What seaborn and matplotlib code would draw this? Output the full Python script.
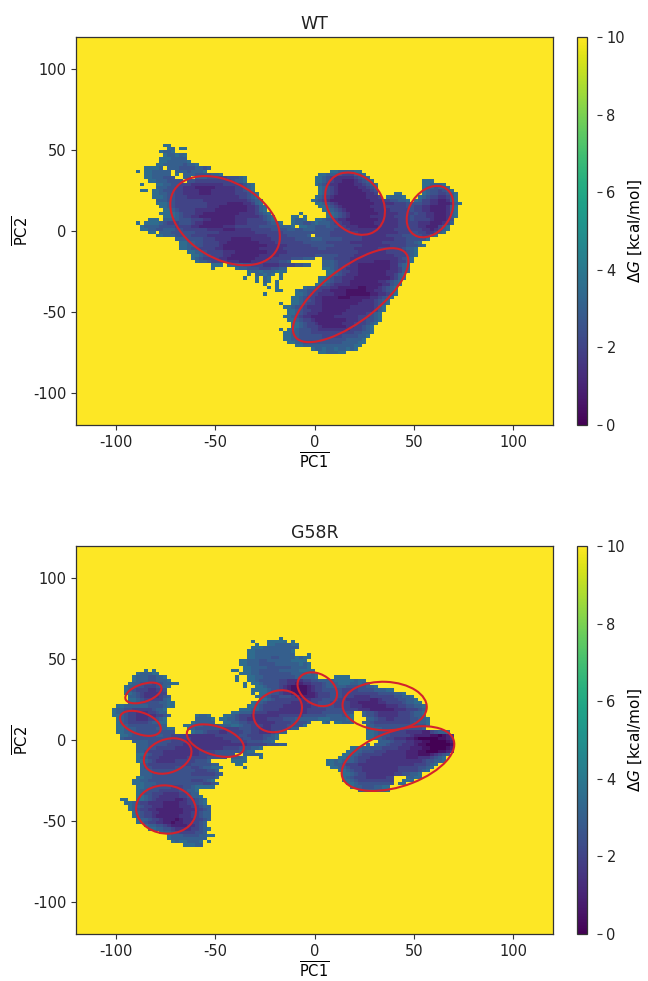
import numpy as np
import pandas as pd
import matplotlib
matplotlib.use("Agg")
import matplotlib.pyplot as plt
from matplotlib.patches import Ellipse
import seaborn as sns

# free energy in 2 x 2 unit bins
# each row: "first-last:levels", levels spread over the span, level = dG * 2
WT_START = (14, 30)
WT_ROWS = [
    "", "", "",
    "8-9:7",
    "9-10:76 12-13:7",
    "7-10:7667",
    "8-13:766767",
    "7-7:7 8-13:7666",
    "7-14:76667",
    "6-16:766665667",
    "3-7:776 9-19:66555656",
    "1-1:7 3-9:76666 11-15:6656 16-18:67 50-57:7667",
    "3-9:76666 11-11:7 13-22:66555667 47-58:76654467",
    "3-10:76655 13-14:6 16-27:665544556 28-28:7 46-59:765433334567",
    "4-12:766555 14-28:554444444445667 46-60:76543322234567 73-75:7",
    "2-2:7 6-30:76655444333333344444567 46-61:7654332222334567 73-78:776667",
    "6-30:66554433322223333344567 47-61:765432222233456 73-79:7665667",
    "2-3:7 5-30:76555443332223333344567 47-61:765432222223345 73-80:76554567",
    "5-6:7 7-31:6554433322233333444567 47-61:7654322222223345 66-67:7 73-81:765544567",
    "5-5:7 6-31:7655443333333333344567 46-62:765432222222233345 64-68:76667 72-81:7654433467",
    "6-32:66554444443333333334567 45-69:7654322222222223334455667 71-81:76443322367",
    "6-6:7 7-32:7654444444333322233467 46-82:7654322222222333334445554433222367",
    "7-33:765444444433322222233467 47-81:7654322222223333444445544332222367",
    "8-33:76544443333222222233467 48-81:76543222222233334444544332222367",
    "7-8:7 9-34:765444332222222233334567 42-42:7 49-81:7654322222223333444454433222367",
    "8-8:7 9-35:765443322222222333334567 40-41:7 43-43:7 49-81:765432222233333444454433222367",
    "4-6:7 8-35:666555444332222223334444567 40-43:7667 46-80:7655433222222233334445444322235",
    "1-1:7 3-4:7 5-37:7654445554332222222333444445667 40-46:7665567 47-80:665443322222333334444433222346",
    "2-40:766665555444433222222333444444555556667 42-79:7665556554433322222333334444433222467",
    "2-79:76655666554444433332233334444455566556665555444433333333334444443323467",
    "4-5:7 7-78:6655555444443333333344444455555555554444443333333344455433467",
    "6-7:7 8-44:66555444333333333333444455556 46-76:5554444443333344455554467",
    "11-74:6655554443332222233334444445556665555544443333333444555557",
    "12-72:7665544433222222233344444455555444443333333444445567",
    "12-73:7665544432222222223333444445555544444433333344455567",
    "12-71:765544433222222223333344444445544444433333444445667",
    "14-71:76654443332222222333344444444444444443333334444567",
    "15-71:765544433222222233334444444445555554443333333333444567",
    "15-45:7654444332222222333344444555666 48-70:554444333333333334567",
    "16-39:766554444333322223333444445567 48-70:66544433333222334467",
    "20-22:7 24-44:7766554444333334444455667 48-69:66544433222222233567",
    "20-20:7 26-38:76655554444555667 48-69:7654433222222233467",
    "29-32:7667 33-36:6667 37-38:7 49-69:76544332222222333467",
    "29-29:7 31-33:667 34-35:67 37-37:7 49-68:7654333222222233467",
    "28-28:7 31-31:7 33-34:67 37-37:7 47-68:7654433222222223467",
    "31-31:7 33-34:67 36-36:7 47-67:76544332222222334567",
    "33-33:7 36-36:7 46-67:7654333222222233567",
    "34-34:7 36-36:7 43-66:766544433222221122234567",
    "36-37:7 41-66:76655443322221111122334567",
    "33-33:7 41-66:76544333222111112233467",
    "40-65:7654433222211122222334567",
    "40-64:765543322222222223334567",
    "37-37:7 40-64:76544332222222233334567",
    "38-63:7655433322222233333467",
    "39-63:765443322222333333467",
    "39-62:76543322222333334567",
    "38-62:76543222223333344567",
    "39-62:765432222223344567",
    "40-61:76543222223344567",
    "40-60:7654432222334567",
    "37-37:7 39-60:76554433333344567",
    "38-60:766554444444445667",
    "38-59:76655554444555667",
    "38-58:7665555555556667",
    "39-58:766555555566677",
    "41-57:76666666666677",
    "45-56:7667667667677",
    "47-52:7667 53-53:7",
]

G58R_START = (9, 26)
G58R_ROWS = [
    "", "",
    "42-42:7",
    "35-35:7 39-43:7 45-45:7",
    "36-36:7 39-46:766677",
    "35-46:777666666666",
    "34-45:76666666667",
    "34-45:76666666666 49-49:7",
    "34-45:7666656666 46-49:7677",
    "32-45:77666556666667 46-48:77",
    "32-49:766655566666767",
    "33-49:7666555556667",
    "8-8:7 10-10:7 30-31:7 33-50:7665555566667777",
    "6-11:766677 32-32:7 33-51:7665555555666767",
    "5-13:766655667 31-31:7 34-51:7665555555666667 56-59:7",
    "5-14:76665566677 31-31:7 34-63:7655554433344556667777677",
    "4-16:7665554556677 33-33:7 35-64:76555543322334456667766767",
    "3-14:766554445667 33-33:7 36-66:7655543211123445666655555667",
    "3-13:76544433445 35-36:7 37-70:765543211123445555444455566677",
    "3-13:7654333344 35-35:7 37-73:7655432111234445544444444555667",
    "4-14:6543333456 36-75:7654455432223444554443334444455667",
    "4-14:7654444467 37-76:76544444333444555443333322344455667",
    "4-13:765555566 14-15:7 35-77:7654444433334455544443322223344456677",
    "1-13:766665556 14-15:7 34-78:76544443333344555444332222233445667",
    "0-13:76655444445667 32-78:77654443333344445554443322222334456",
    "0-13:766544333445667 30-60:7665443333333444555555 63-78:6554333334445667",
    "0-14:7654433334456 21-24:7667 28-60:76544333333444455555666567 63-78:6554333334445667",
    "1-13:7654433344567 21-25:66667 27-52:766544333334445556666667 53-60:7667 64-79:65443344455667",
    "1-13:7654444456677 20-25:7666667 28-49:76654433334445556 53-54:76 56-60:7667 63-79:654444445667",
    "1-13:7655555566 18-48:766655566677654443344455557 64-79:65555555557",
    "1-15:76655556677 19-46:76555555544445554433344445667 64-78:6665555555556",
    "1-15:766555555 20-20:7 21-43:66544443334444555443333445667 64-84:7655544443332245667",
    "2-41:7655555566554443333333444445544445567 64-85:7655544443222110123",
    "2-41:6555555555555444443333333344444554445667 64-85:766544333221000001123",
    "5-40:666655555544443333333333344445555667 67-85:66544433211000012",
    "6-43:66555544443333333333333444455566 64-64:7 66-85:6654443332110000001",
    "6-37:665544444333333333334444555667 60-85:776655444333221100012",
    "6-35:665444433333333344445555556677 59-85:7665544433332211001123",
    "6-30:765444333333333444455555 33-37:667 58-84:76654444333332221123456",
    "6-28:76544433333334444455555 30-33:667 37-37:7 57-83:76654433333333222334567",
    "6-24:77654433333344444555566 30-33:77 54-83:767665443333333333345667",
    "7-26:65444444444445555566 31-32:7 54-81:76654433333333333344567",
    "7-25:65544444455554456677 26-27:7 33-33:7 55-80:7665443333333344445567",
    "7-26:665555555555444556 57-79:76544333333334444567",
    "7-27:66555555554444456 58-77:7654433333334455667",
    "6-26:7665555555555556 58-70:76544433333444 74-77:67",
    "5-25:76655555555544567 58-70:7654444444 73-75:7",
    "5-7:7 8-26:66555555555456 59-70:765555555 72-73:7",
    "6-20:76655555444556 21-25:7 60-69:7665556677",
    "6-21:7665554444455667 62-69:66666667",
    "6-21:76554443333445667",
    "6-22:7654433333445667",
    "2-3:7 6-23:76543333322344567",
    "3-3:7 4-23:76544333322223344567",
    "4-24:76654433322222333445667",
    "4-24:7654433222222233344567",
    "5-24:76544332222222333445667",
    "5-24:7654432222222333445667",
    "6-24:76654432221233344567",
    "6-23:7654433221223344567",
    "8-23:76655432222334567",
    "9-24:766554333344567",
    "12-23:7665544445567",
    "14-25:766655556677",
    "14-23:76666666667",
    "15-22:767766677 24-24:7",
    "18-22:7766",
]

PC_TICKS = [-100, -50, 0, 50, 100]
CBAR_TICKS = [0, 2, 4, 6, 8, 10]

# centre x, centre y, semi axis a, semi axis b, angle
WT_ELLIPSES = [
    (-45.0, 6.4, 32.2, 22.0, -45),
    (20.4, 16.9, 20.0, 14.1, -68),
    (58.1, 12.0, 16.6, 10.7, 68),
    (18.2, -39.7, 38.1, 15.4, 45),
]
G58R_ELLIPSES = [
    (-86.1, 29.1, 9.8, 5.3, 26),
    (-87.6, 10.3, 11.1, 6.5, -28),
    (-73.9, -9.9, 12.9, 9.9, 35),
    (-49.9, -0.4, 15.3, 8.6, -24.5),
    (-18.5, 17.8, 13.7, 11.4, 55),
    (1.4, 31.4, 11.6, 8.6, -50),
    (35.3, 21.0, 21.2, 15.0, -3),
    (42.0, -11.5, 30.4, 16.7, 25.7),
    (-74.7, -43.0, 15.4, 14.6, -40),
]


def build_grid(rows, start):
    grid = np.full((120, 120), 10.0)
    for r, row in enumerate(rows):
        for part in row.split():
            span, levels = part.split(":")
            first, last = [int(v) for v in span.split("-")]
            n = last - first + 1
            for i in range(n):
                level = int(levels[i * len(levels) // n])
                grid[start[1] + r, start[0] + first + i] = level / 2
    return grid


def draw_panel(fig, top, title, rows, start, ellipses):
    W, H = 648, 981
    ax = fig.add_axes([76 / W, (H - top - 388) / H, 477 / W, 388 / H])
    cax = fig.add_axes([577 / W, (H - top - 388) / H, 10 / W, 388 / H])
    sns.heatmap(pd.DataFrame(build_grid(rows, start)), vmin=0, vmax=10, cmap="viridis",
                ax=ax, cbar_ax=cax, xticklabels=False, yticklabels=False)
    ax.set_xticks([(v + 120) / 2 for v in PC_TICKS])
    ax.set_xticklabels(PC_TICKS, rotation=0)
    ax.set_yticks([(120 - v) / 2 for v in PC_TICKS])
    ax.set_yticklabels(PC_TICKS, rotation=0)
    ax.tick_params(labelsize=10.5, length=3.5, width=0.8, color="#333333", labelcolor="#222222")
    for s in ax.spines.values():
        s.set_visible(True)
        s.set_linewidth(0.9)
        s.set_edgecolor("#333333")
    for x, y, a, b, angle in ellipses:
        ax.add_patch(Ellipse(((x + 120) / 2, (120 - y) / 2), a, b, angle=-angle,
                             fill=False, edgecolor="#d3222c", linewidth=1.5))
    ax.set_title(title, fontsize=12.5, pad=6, color="#222222")
    ax.set_xlabel(r"$\overline{\mathrm{PC1}}$", fontsize=10.5, labelpad=1)
    ax.set_ylabel(r"$\overline{\mathrm{PC2}}$", fontsize=10.5, labelpad=1)
    cbar = ax.collections[0].colorbar
    cbar.outline.set_visible(True)
    cbar.outline.set_linewidth(0.9)
    cbar.outline.set_edgecolor("#333333")
    cbar.set_ticks(CBAR_TICKS)
    # ticks of the colour bar stand off from the bar
    cax.spines["right"].set_position(("outward", 7))
    cax.tick_params(labelsize=10.5, length=3.5, width=0.8, color="#333333", labelcolor="#222222")
    cax.set_ylabel(r"$\Delta G$ [kcal/mol]", fontsize=11, labelpad=1)


fig = plt.figure(figsize=(6.48, 9.81), dpi=100)
draw_panel(fig, 37, "WT", WT_ROWS, WT_START, WT_ELLIPSES)
draw_panel(fig, 546, "G58R", G58R_ROWS, G58R_START, G58R_ELLIPSES)
fig.savefig("out.png", dpi=100)
